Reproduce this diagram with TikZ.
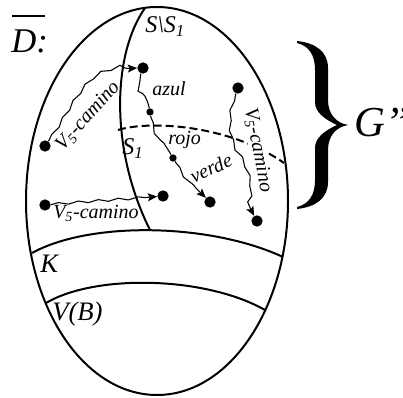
\documentclass[tikz,border=0pt]{standalone}
\usepackage{fontspec}
\setmainfont{Liberation Serif}
\usepackage{tikz}
\usetikzlibrary{arrows.meta,decorations.pathmorphing}
\newcommand{\bracehalf}{(297,41) .. controls (316,43) and (328,52) .. (328,68) -- (328,100)
  .. controls (328,114) and (336,123) .. (348,125) -- (337,125)
  .. controls (324,119) and (315,112) .. (315,102) -- (315,70)
  .. controls (315,55) and (309,46) .. (297,43) -- cycle}
\newcommand{\Vcam}{V\textsubscript{5}-camino}

\begin{document}
\begin{tikzpicture}[
  x=0.75pt, y=-0.75pt,
  border/.style={line width=1.5pt},
  dot/.style={circle, fill=black, inner sep=0pt, minimum size=8.5pt},
  smalldot/.style={circle, fill=black, inner sep=0pt, minimum size=5.5pt},
  wavy/.style={line width=0.8pt, decorate,
               decoration={snake, amplitude=0.9pt, segment length=15pt,
                           pre length=1pt, post length=5pt}},
  arr/.style={-{Stealth[length=7pt, width=6pt, inset=1.5pt]}},
  lbl/.style={font=\fontsize{15}{18}\selectfont\itshape, inner sep=0pt},
  mid/.style={font=\fontsize{18}{21}\selectfont\itshape, inner sep=0pt},
  large/.style={font=\fontsize{20}{24}\selectfont\itshape, inner sep=0pt}
]
  \useasboundingbox (0,0) rectangle (403,398);

  % outline and bands
  \draw[border] (157,201) ellipse [x radius=131, y radius=194];
  \draw[border] (145,8) .. controls (112,55) and (110,150) .. (150,230);
  \draw[border] (32,253) .. controls (90,221) and (210,223) .. (283,257);
  \draw[border] (46,303) .. controls (95,274) and (205,276) .. (265,310);
  \draw[line width=1.5pt, dash pattern=on 6pt off 3pt]
    (118,130) .. controls (150,120) and (230,125) .. (284,163);

  % brace
  \fill \bracehalf;
  \begin{scope}[shift={(0,250)}, yscale=-1]
    \fill \bracehalf;
  \end{scope}

  % vertices
  \node[dot] (d1) at (45,146) {};
  \node[dot] (d2) at (143,68) {};
  \node[smalldot] (d3) at (150,112) {};
  \node[smalldot] (d4) at (173,158) {};
  \node[dot] (d5) at (210,202) {};
  \node[dot] (d6) at (238,88) {};
  \node[dot] (d7) at (257,221) {};
  \node[dot] (d8) at (45,205) {};
  \node[dot] (d9) at (163,196) {};

  % labels
  \node[large, anchor=base west] (dbar) at (11,53) {\fontsize{26}{30}\selectfont D:};
  \draw[line width=1.5pt] (12,16) -- (45,16);
  \node[mid, anchor=base west] (ss1) at (145,33) {S\textbackslash S\textsubscript{1}};
  \node[mid, anchor=base west] (s1) at (122,155) {S\textsubscript{1}};
  \node[large, anchor=base west] (k) at (40,273) {K};
  \node[large, anchor=base west] (vb) at (52,321) {V(B)};
  \node[large, anchor=base west] (g) at (354,137) {\fontsize{32}{36}\selectfont G'{}'};
  \node[lbl, rotate=48] (c1) at (88,116) {\Vcam};
  \node[lbl, anchor=base west] (az) at (152,96) {azul};
  \node[lbl, anchor=base west] (ro) at (168,145) {rojo};
  \node[lbl, rotate=24] (ve) at (211,168) {verde};
  \node[lbl, rotate=-79, fill=white, inner sep=0.5pt] (c2) at (258,150) {\Vcam};
  \node[lbl, anchor=base west] (c3) at (53,219) {\Vcam};

  % paths
  \draw[wavy, arr] (d1) .. controls (62,122) and (78,88) .. (96,78)
    .. controls (112,73) and (124,68) .. (d2);
  \draw[wavy] (d2) to[out=-110, in=100] (d3);
  \draw[wavy] (d3) to[out=-80, in=120] (d4);
  \draw[wavy, arr] (d4) to[out=-60, in=135] (d5);
  \draw[wavy, arr] (d6) .. controls (228,115) and (232,138) .. (241,150)
    .. controls (250,165) and (256,186) .. (250,197) .. controls (247,204) and (251,210) .. (d7);
  \draw[wavy, arr] (d8) to[out=5, in=185] (d9);
\end{tikzpicture}
\end{document}
